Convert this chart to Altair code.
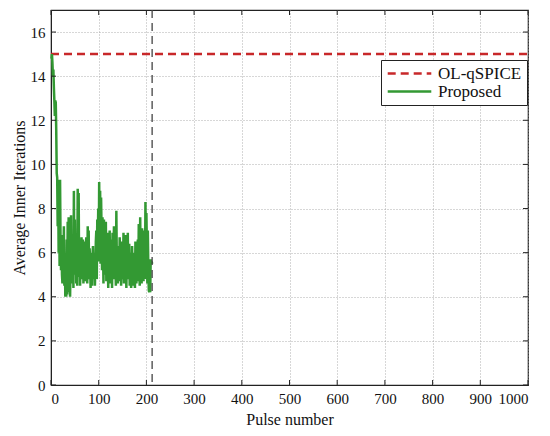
import altair as alt
import pandas as pd

# ---- data ----
proposed_y = [
    14.8, 15.0, 14.6, 14.0, 14.3, 13.5, 12.9, 12.2, 12.9, 12.8,
    11.5, 9.6, 9.4, 7.2, 9.3, 6.0, 9.2, 5.4, 9.3, 6.5,
    5.2, 6.8, 5.0, 4.6, 6.5, 5.3, 7.2, 4.5, 6.0, 4.0,
    5.2, 4.0, 6.6, 4.1, 7.4, 5.0, 7.6, 4.2, 6.0, 4.0,
    5.5, 7.7, 4.6, 6.2, 5.0, 6.8, 4.4, 8.8, 5.0, 7.5,
    5.2, 6.3, 4.6, 5.8, 4.5, 8.9, 5.3, 8.7, 4.9, 6.5,
    4.5, 6.6, 5.2, 6.7, 4.8, 6.0, 6.6, 4.6, 6.2, 5.5,
    6.5, 4.7, 5.8, 6.7, 5.0, 4.6, 7.2, 5.4, 7.0, 4.8,
    6.2, 5.5, 4.4, 6.0, 5.2, 4.5, 5.8, 6.3, 4.8, 5.5,
    6.0, 4.5, 5.3, 6.5, 7.0, 4.8, 7.5, 6.2, 8.0, 5.6,
    9.2, 6.4, 8.8, 5.5, 8.5, 7.0, 5.2, 7.6, 6.5, 4.6,
    7.5, 6.0, 5.0, 6.8, 7.4, 4.7, 6.3, 6.9, 5.6, 4.4,
    6.5, 5.8, 7.0, 4.6, 6.0, 5.4, 6.6, 4.4, 6.9, 5.2,
    5.8, 7.2, 4.8, 6.0, 5.6, 4.5, 7.9, 5.5, 6.2, 4.6,
    6.3, 5.4, 4.7, 6.7, 5.1, 6.0, 4.5, 5.7, 6.5, 4.8,
    5.6, 6.9, 4.6, 5.9, 4.7, 6.8, 5.3, 4.4, 6.2, 5.0,
    6.9, 4.8, 5.5, 6.4, 4.5, 5.8, 6.0, 4.4, 5.4, 6.3,
    4.9, 5.7, 4.5, 6.0, 5.2, 4.4, 6.5, 5.0, 4.6, 5.8,
    5.2, 6.6, 4.7, 7.3, 5.4, 4.5, 7.6, 5.0, 6.8, 4.6,
    7.1, 5.2, 6.4, 4.7, 5.6, 7.0, 4.8, 8.3, 5.5, 7.8,
    6.2, 4.6, 7.0, 5.3, 4.3, 4.2, 5.0, 4.2, 5.7, 5.5, 5.6, 5.5,
]
proposed_x = list(range(1, len(proposed_y) + 1))

ol_x = [0, 1000]
ol_y = [15, 15]

vline_x = [212]

x_ticks = [0, 100, 200, 300, 400, 500, 600, 700, 800, 900, 1000]
y_ticks = [0, 2, 4, 6, 8, 10, 12, 14, 16]

series_names = ["OL-qSPICE", "Proposed"]
series_colors = ["#c8282a", "#339933"]

# ---- build tables ----
lines_df = pd.concat([
    pd.DataFrame({"x": ol_x, "y": ol_y, "series": series_names[0]}),
    pd.DataFrame({"x": proposed_x, "y": proposed_y, "series": series_names[1]}),
])

W, H = 477, 375
FONT = "Liberation Serif"

xscale = alt.Scale(domain=[0, 1000], nice=False, zero=False)
yscale = alt.Scale(domain=[0, 17], nice=False, zero=False)

xaxis = alt.Axis(values=x_ticks, title="Pulse number", format="d",
                 grid=True, gridDash=[1, 2], gridColor="#9a9a9a", gridWidth=0.8,
                 tickSize=0, labelPadding=6, titlePadding=5,
                 domainColor="#222", labelFontSize=15, titleFontSize=16,
                 labelColor="#111", titleColor="#111",
                 titleFontWeight="normal")
yaxis = alt.Axis(values=y_ticks, title="Average Inner Iterations", format="d",
                 grid=True, gridDash=[1, 2], gridColor="#9a9a9a", gridWidth=0.8,
                 tickSize=0, labelPadding=6, titlePadding=3,
                 domainColor="#222", labelFontSize=15, titleFontSize=16,
                 labelColor="#111", titleColor="#111",
                 titleFontWeight="normal")

lines = alt.Chart(lines_df).mark_line(strokeWidth=2.5).encode(
    x=alt.X("x:Q", scale=xscale, axis=xaxis),
    y=alt.Y("y:Q", scale=yscale, axis=yaxis),
    color=alt.Color("series:N",
                    scale=alt.Scale(domain=series_names, range=series_colors),
                    legend=alt.Legend(title=None, orient="none", legendX=330, legendY=50,
                                      fillColor="white", strokeColor="#222",
                                      padding=5, symbolType="stroke",
                                      symbolSize=1900, symbolStrokeWidth=2.5,
                                      clipHeight=17,
                                      labelFontSize=17, labelColor="#111",
                                      rowPadding=0, labelOffset=5)),
    strokeDash=alt.StrokeDash("series:N",
                              scale=alt.Scale(domain=series_names, range=[[8, 5], [1, 0]]),
                              legend=None),
    order=alt.Order("x:Q"),
)

vline = alt.Chart(pd.DataFrame({"x": vline_x})).mark_rule(
    color="#444", strokeWidth=1.3, strokeDash=[8, 5]
).encode(x=alt.X("x:Q", scale=xscale))

xt = pd.DataFrame({"v": x_ticks})
yt = pd.DataFrame({"v": y_ticks})
tick_style = dict(color="#222", strokeWidth=1)
xt_bottom = alt.Chart(xt).mark_rule(**tick_style).encode(
    x=alt.X("v:Q", scale=xscale), y=alt.value(H), y2=alt.value(H - 5))
xt_top = alt.Chart(xt).mark_rule(**tick_style).encode(
    x=alt.X("v:Q", scale=xscale), y=alt.value(0), y2=alt.value(5))
yt_left = alt.Chart(yt).mark_rule(**tick_style).encode(
    y=alt.Y("v:Q", scale=yscale), x=alt.value(0), x2=alt.value(5))
yt_right = alt.Chart(yt).mark_rule(**tick_style).encode(
    y=alt.Y("v:Q", scale=yscale), x=alt.value(W), x2=alt.value(W - 5))

chart = alt.layer(lines, vline, xt_bottom, xt_top, yt_left, yt_right).properties(
    width=W, height=H,
    padding={"left": 43, "top": 2, "right": 14, "bottom": 43},
    autosize=alt.AutoSizeParams(type="none"),
).configure(
    background="white", font=FONT
).configure_axis(
    labelFont=FONT, titleFont=FONT
).configure_legend(
    labelFont=FONT
).configure_view(stroke="#222", strokeWidth=1.2)

chart.save("out.html", embed_options={"renderer": "svg", "actions": False})
